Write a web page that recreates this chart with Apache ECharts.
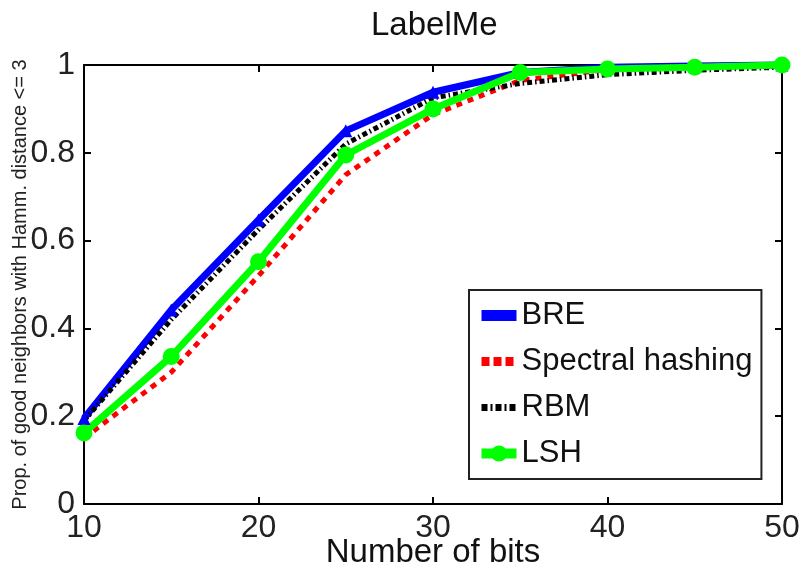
<!DOCTYPE html>
<html>
<head>
<meta charset="utf-8">
<script src="https://cdn.jsdelivr.net/npm/echarts@6/dist/echarts.min.js"></script>
<style>
html,body{margin:0;padding:0;background:#fff;}
#main{width:802px;height:568px;}
</style>
</head>
<body>
<div id="main"></div>
<script>
// ---- data ----
const bits = [10, 15, 20, 25, 30, 35, 40, 45, 50];
const breVals = [0.195, 0.442, 0.647, 0.850, 0.938, 0.983, 0.995, 0.998, 1.000];
const spectralVals = [0.150, 0.300, 0.520, 0.750, 0.887, 0.965, 0.990, 0.997, 1.000];
const rbmVals = [0.190, 0.420, 0.625, 0.820, 0.925, 0.958, 0.978, 0.988, 0.995];
const lshVals = [0.162, 0.336, 0.552, 0.795, 0.900, 0.983, 0.991, 0.995, 1.000];
const seriesNames = ['BRE', 'Spectral hashing', 'RBM', 'LSH'];
const xTickLabels = ['10', '20', '30', '40', '50'];
const yTickLabels = ['0', '0.2', '0.4', '0.6', '0.8', '1'];
const titleText = 'LabelMe';
const xName = 'Number of bits';
const yName = 'Prop. of good neighbors with Hamm. distance <= 3';

const pairs = vals => bits.map((b, i) => [b, vals[i]]);
const FONT = 'Liberation Sans, Arial, sans-serif';

const chart = echarts.init(document.getElementById('main'), null, {renderer: 'canvas'});

const axisLineStyle = {color: '#000', width: 2};
const option = {
  backgroundColor: '#fff',
  animation: false,
  title: {
    text: titleText,
    left: 371, top: 9, padding: 0,
    textStyle: {fontFamily: FONT, fontSize: 33, fontWeight: 'normal', color: '#111'}
  },
  grid: {left: 84, right: 20, top: 65, bottom: 64, containLabel: false, outerBoundsMode: 'none'},
  legend: {
    orient: 'vertical',
    left: 469, top: 290,
    padding: [10, 9, 10, 7],
    itemGap: 15,
    itemWidth: 35, itemHeight: 20,
    itemTextGap: 2,
    borderColor: '#222', borderWidth: 2,
    backgroundColor: '#fff',
    textStyle: {fontFamily: FONT, fontSize: 31, color: '#111'},
    data: [
      {name: seriesNames[0], itemStyle: {opacity: 0}, lineStyle: {width: 11, type: 'solid'}},
      {name: seriesNames[1], itemStyle: {opacity: 0}, lineStyle: {width: 9, type: [8, 4]}},
      {name: seriesNames[2], itemStyle: {opacity: 0}, lineStyle: {width: 7, type: [6, 3, 2, 3]}},
      {name: seriesNames[3], lineStyle: {width: 10, type: 'solid'}}
    ]
  },
  xAxis: [{
    type: 'value', min: 10, max: 50, interval: 10, position: 'bottom',
    axisLine: {show: true, onZero: false, lineStyle: axisLineStyle},
    axisTick: {show: true, inside: true, length: 7, lineStyle: {color: '#000', width: 2}},
    splitLine: {show: false},
    axisLabel: {
      margin: 8, fontFamily: FONT, fontSize: 32, color: '#222',
      formatter: v => xTickLabels[Math.round((v - 10) / 10)]
    },
    name: xName, nameLocation: 'middle', nameGap: 32, nameMoveOverlap: false,
    nameTextStyle: {fontFamily: FONT, fontSize: 33, color: '#111'}
  }, {
    type: 'value', min: 10, max: 50, interval: 10, position: 'top',
    axisLine: {show: true, onZero: false, lineStyle: axisLineStyle},
    axisTick: {show: true, inside: true, length: 7, lineStyle: {color: '#000', width: 2}},
    splitLine: {show: false},
    axisLabel: {show: false}
  }],
  yAxis: [{
    type: 'value', min: 0, max: 1, interval: 0.2, position: 'left',
    axisLine: {show: true, onZero: false, lineStyle: axisLineStyle},
    axisTick: {show: true, inside: true, length: 7, lineStyle: {color: '#000', width: 2}},
    splitLine: {show: false},
    axisLabel: {
      margin: 9, fontFamily: FONT, fontSize: 32, color: '#222',
      formatter: v => yTickLabels[Math.round(v / 0.2)]
    },
    name: yName, nameLocation: 'middle', nameGap: 54, nameMoveOverlap: false,
    nameTextStyle: {fontFamily: FONT, fontSize: 20, color: '#222'}
  }, {
    type: 'value', min: 0, max: 1, interval: 0.2, position: 'right',
    axisLine: {show: true, onZero: false, lineStyle: axisLineStyle},
    axisTick: {show: true, inside: true, length: 7, lineStyle: {color: '#000', width: 2}},
    splitLine: {show: false},
    axisLabel: {show: false}
  }],
  series: [
    {
      name: seriesNames[0], type: 'line', data: pairs(breVals), clip: false,
      symbol: 'triangle', symbolSize: 13,
      itemStyle: {color: '#0000ff'},
      lineStyle: {color: '#0000ff', width: 7}
    },
    {
      name: seriesNames[1], type: 'line', data: pairs(spectralVals), clip: false,
      symbol: 'none',
      itemStyle: {color: '#ff0000'},
      lineStyle: {color: '#ff0000', width: 5, type: [6, 6]}
    },
    {
      name: seriesNames[2], type: 'line', data: pairs(rbmVals), clip: false,
      symbol: 'none',
      itemStyle: {color: '#000000'},
      lineStyle: {color: '#000000', width: 5, type: [5, 3, 1.5, 3]}
    },
    {
      name: seriesNames[3], type: 'line', data: pairs(lshVals), clip: false,
      symbol: 'circle', symbolSize: 17,
      itemStyle: {color: '#00ff00'},
      lineStyle: {color: '#00ff00', width: 7}
    }
  ]
};
chart.setOption(option);
</script>
</body>
</html>
